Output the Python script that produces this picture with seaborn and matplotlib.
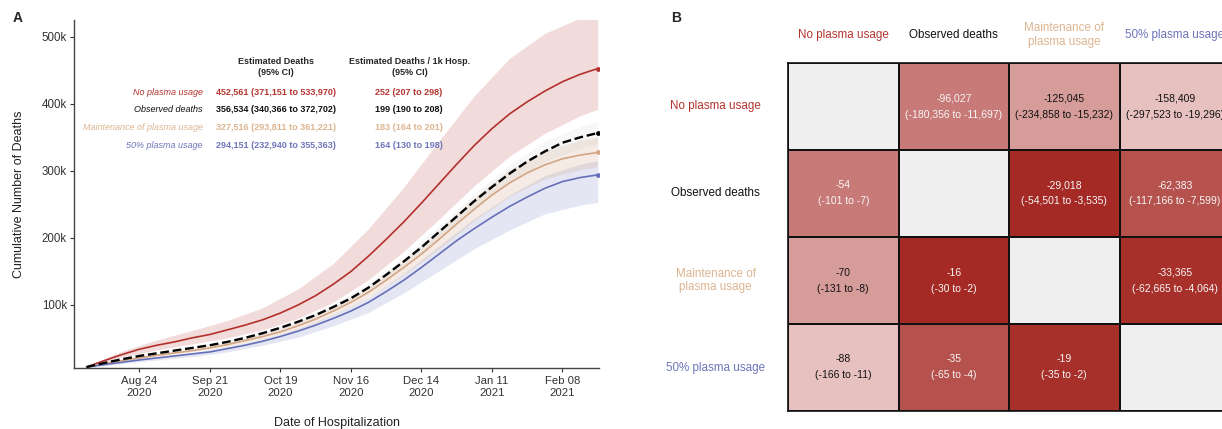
import numpy as np
import pandas as pd
import matplotlib.pyplot as plt
import matplotlib.dates as mdates
from matplotlib.colors import LinearSegmentedColormap
from matplotlib.ticker import FuncFormatter, FixedLocator
import seaborn as sns

sns.set_theme(style='white')
plt.rcParams['font.family'] = ['Liberation Sans', 'DejaVu Sans']

# ---------------- Panel A data (thousands of cumulative deaths) ----------------
start_date = '2020-08-03'
# weekly points, 2020-08-03 .. 2021-02-22
no_plasma = [7.5, 17, 26, 34, 40, 45, 51, 56, 63, 70, 78, 88, 100, 114, 131,
             150, 173, 198, 224, 252, 281, 310, 338, 363, 385, 403, 419, 433, 444, 452.6]
observed = [7.5, 13.5, 19, 24, 28, 32, 36, 40, 45, 51, 58, 66, 75, 85, 97,
            110, 126, 145, 165, 186, 209, 232, 255, 276, 296, 314, 329, 342, 350, 356.5]
maintenance = [7.5, 12.5, 17, 21, 25, 28.5, 32, 36, 41, 47, 53, 60, 69, 79, 91,
               104, 119, 137, 156, 176, 198, 221, 243, 264, 282, 297, 309, 318, 323.5, 327.5]
half_plasma = [7.5, 11, 14.5, 18, 21, 24, 27, 30, 35, 40, 46, 53, 61, 70, 80,
               91, 104, 120, 137, 156, 176, 196, 214, 231, 247, 261, 274, 284, 290, 294]

# confidence bands, read every two weeks (days since start)
band_days = [0, 14, 28, 42, 56, 70, 84, 98, 112, 126, 140, 154, 168, 182, 196, 203]
no_plasma_lo = [6.5, 22, 33, 42, 51, 63, 80, 104, 138, 180, 228, 278, 322, 356, 382, 392]
no_plasma_hi = [8.5, 31, 48, 62, 77, 96, 124, 162, 214, 276, 345, 412, 468, 505, 528, 535]
observed_lo = [7.2, 18, 27, 34, 43, 55, 72, 93, 120, 158, 200, 244, 283, 314, 334, 340]
observed_hi = [7.8, 20, 29, 38, 47, 61, 78, 101, 132, 172, 218, 266, 309, 344, 366, 373]
maintenance_lo = [7, 16, 23, 30, 38, 49, 64, 85, 111, 145, 184, 226, 262, 288, 302, 306]
maintenance_hi = [8, 18, 27, 34, 44, 57, 74, 97, 127, 167, 212, 260, 302, 330, 346, 350]
half_plasma_lo = [6.5, 12.5, 18, 23, 30, 40, 52, 69, 89, 118, 151, 184, 212, 236, 249, 253]
half_plasma_hi = [8, 15.5, 22.5, 29, 37.5, 49, 65, 86, 111, 147, 188, 229, 264, 293, 310, 315]

# summary table
scenarios = ['No plasma usage', 'Observed deaths', 'Maintenance of plasma usage', '50% plasma usage']
est_deaths = [452561, 356534, 327516, 294151]
est_deaths_lo = [371151, 340366, 293811, 232940]
est_deaths_hi = [533970, 372702, 361221, 355363]
per_1k = [252, 199, 183, 164]
per_1k_lo = [207, 190, 164, 130]
per_1k_hi = [298, 208, 201, 198]

# ---------------- Panel B data (row minus column) ----------------
pairs = [(0, 1), (0, 2), (0, 3), (1, 2), (1, 3), (2, 3)]
death_diff = [-96027, -125045, -158409, -29018, -62383, -33365]
death_diff_lo = [-180356, -234858, -297523, -54501, -117166, -62665]
death_diff_hi = [-11697, -15232, -19296, -3535, -7599, -4064]
rate_diff = [-54, -70, -88, -16, -35, -19]
rate_diff_lo = [-101, -131, -166, -30, -65, -35]
rate_diff_hi = [-7, -8, -11, -2, -4, -2]

colors = ['#B3302C', '#000000', '#D2A584', '#6670B8']
label_colors = ['#B5342F', '#111111', '#DDB48F', '#6E75BA']

fig = plt.figure(figsize=(12.22, 4.29), dpi=100)
axA = fig.add_axes([74 / 1222, 61 / 429, 525 / 1222, 348 / 429])
axB = fig.add_axes([788 / 1222, 18 / 429, 442 / 1222, 348 / 429])

# ---------------- Panel A ----------------
dates = pd.date_range(start_date, periods=len(no_plasma), freq='7D')
bdates = pd.to_datetime(start_date) + pd.to_timedelta(band_days, unit='D')

bands = [(no_plasma_lo, no_plasma_hi, colors[0], 0.17),
         (half_plasma_lo, half_plasma_hi, colors[3], 0.17),
         (maintenance_lo, maintenance_hi, colors[2], 0.22),
         (observed_lo, observed_hi, '#999999', 0.08)]
for lo, hi, c, a in bands:
    axA.fill_between(bdates, np.array(lo) * 1000, np.array(hi) * 1000,
                     color=c, alpha=a, lw=0)

series = [no_plasma, observed, maintenance, half_plasma]
df = pd.concat([pd.DataFrame({'date': dates, 'deaths': np.array(s) * 1000, 'scenario': n})
                for s, n in zip(series, scenarios)])
for i, name in enumerate(scenarios):
    sub = df[df['scenario'] == name]
    if name == 'Observed deaths':
        sns.lineplot(data=sub, x='date', y='deaths', ax=axA, color='black',
                     lw=1.7, dashes=(3.2, 2.2), linestyle='--', zorder=5)
    else:
        sns.lineplot(data=sub, x='date', y='deaths', ax=axA, color=colors[i],
                     lw=1.2, zorder=4)
    axA.scatter(sub['date'].iloc[-1], sub['deaths'].iloc[-1], s=6,
                color=colors[i], zorder=6)

axA.set_xlim(pd.Timestamp('2020-07-29'), pd.Timestamp('2021-02-22 12:00'))
axA.set_ylim(6000, 525000)
axA.yaxis.set_major_locator(FixedLocator([100000, 200000, 300000, 400000, 500000]))
axA.yaxis.set_major_formatter(FuncFormatter(lambda v, p: f'{int(v / 1000)}k'))
xt = pd.date_range('2020-08-24', periods=7, freq='28D')
axA.xaxis.set_major_locator(FixedLocator(mdates.date2num(xt)))
axA.xaxis.set_major_formatter(mdates.DateFormatter('%b %d\n%Y'))
axA.tick_params(axis='both', labelsize=8.3, colors='#333333', length=3,
                width=0.8, pad=2, bottom=True, left=True)
axA.tick_params(axis='x', labelsize=8.2, pad=3)
for lab in axA.get_xticklabels():
    lab.set_linespacing(1.2)
for side in ['top', 'right']:
    axA.spines[side].set_visible(False)
for side in ['left', 'bottom']:
    axA.spines[side].set_color('#444444')
    axA.spines[side].set_linewidth(1.0)
axA.set_xlabel('Date of Hospitalization', fontsize=9, color='#222222', labelpad=14)
axA.set_ylabel('Cumulative Number of Deaths', fontsize=9, color='#222222', labelpad=12)

def ax_xy(px, py):
    return (px - 74) / 525, (368 - py) / 348

fs = 6.5
axA.text(*ax_xy(276, 67), 'Estimated Deaths\n(95% CI)', transform=axA.transAxes,
         ha='center', va='center', fontsize=fs, weight='bold', linespacing=1.35)
axA.text(*ax_xy(410, 67), 'Estimated Deaths / 1k Hosp.\n(95% CI)', transform=axA.transAxes,
         ha='center', va='center', fontsize=fs, weight='bold', linespacing=1.35)
row_y = [92, 109, 127, 145]
for i, name in enumerate(scenarios):
    c = label_colors[i]
    axA.text(*ax_xy(203, row_y[i]), name, transform=axA.transAxes, ha='right',
             va='center', fontsize=fs, style='italic', color=c)
    axA.text(*ax_xy(216, row_y[i]),
             f'{est_deaths[i]:,} ({est_deaths_lo[i]:,} to {est_deaths_hi[i]:,})',
             transform=axA.transAxes, ha='left', va='center', fontsize=fs,
             weight='bold', color=c)
    axA.text(*ax_xy(409, row_y[i]), f'{per_1k[i]} ({per_1k_lo[i]} to {per_1k_hi[i]})',
             transform=axA.transAxes, ha='center', va='center', fontsize=fs,
             weight='bold', color=c)

# ---------------- Panel B ----------------
n = len(scenarios)
shade = np.full((n, n), np.nan)
annot = np.full((n, n), '', dtype=object)
for k, (r, c) in enumerate(pairs):
    shade[r, c] = -rate_diff[k]
    shade[c, r] = -rate_diff[k]
    annot[r, c] = f'{death_diff[k]:,}\n({death_diff_lo[k]:,} to {death_diff_hi[k]:,})'
    annot[c, r] = f'{rate_diff[k]}\n({rate_diff_lo[k]} to {rate_diff_hi[k]})'

short = [s.replace('Maintenance of ', 'Maintenance of\n') for s in scenarios]
cmap = LinearSegmentedColormap.from_list('reds', ['#A52A25', '#E6C1C0'])
axB.set_facecolor('#EFEFEF')
sns.heatmap(shade, ax=axB, cmap=cmap, vmin=16, vmax=88, annot=annot, fmt='',
            cbar=False, linewidths=1.2, linecolor='#111111',
            xticklabels=short, yticklabels=short,
            annot_kws={'fontsize': 7.5, 'linespacing': 1.75})
for t in axB.texts:
    x, y = t.get_position()
    v = shade[int(y), int(x)]
    t.set_color('#111111' if v >= 60 else '#F7F7F7')

axB.xaxis.tick_top()
axB.tick_params(axis='both', length=0)
axB.tick_params(axis='x', pad=20)
axB.tick_params(axis='y', pad=52)
for i, lab in enumerate(axB.get_xticklabels()):
    lab.set_color(label_colors[i])
    lab.set_fontsize(8.4)
    lab.set_rotation(0)
    lab.set_va('center')
    lab.set_ha('center')
    lab.set_linespacing(1.2)
for i, lab in enumerate(axB.get_yticklabels()):
    lab.set_color(label_colors[i])
    lab.set_fontsize(8.4)
    lab.set_rotation(0)
    lab.set_va('center')
    lab.set_ha('center')
    lab.set_linespacing(1.2)
for s in axB.spines.values():
    s.set_visible(True)
    s.set_color('#111111')
    s.set_linewidth(1.2)

fig.text(18 / 1222, 1 - 18 / 429, 'A', fontsize=10, weight='bold', ha='center', va='center')
fig.text(676 / 1222, 1 - 18 / 429, 'B', fontsize=10, weight='bold', ha='center', va='center')

fig.savefig('out.png', dpi=100)
